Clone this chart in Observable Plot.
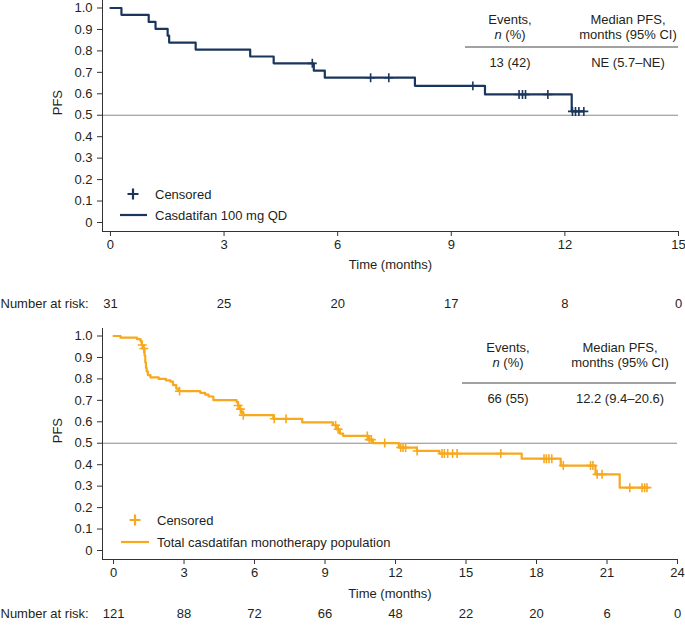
<!DOCTYPE html>
<html><head><meta charset="utf-8">
<script src="https://cdn.jsdelivr.net/npm/d3@7"></script>
<script src="https://cdn.jsdelivr.net/npm/@observablehq/plot@0.6"></script>
<style>
body{margin:0;background:#fff;}
#chart{width:685px;}
#chart svg{display:block;}
</style></head><body><div id="chart"></div>
<script>
// ---------- Data ----------
// Panel A: Casdatifan 100 mg QD
const cohortTimes = [0, 0.29, 1.01, 1.19, 1.51, 1.55, 2.25, 3.69, 4.31, 5.37, 5.66, 8.04, 9.89, 12.18, 12.5];
const cohortSurv  = [1.0, 0.968, 0.935, 0.903, 0.871, 0.839, 0.806, 0.774, 0.742, 0.708, 0.675, 0.637, 0.597, 0.518, 0.518];
const cohortCensTimes = [5.33, 6.87, 7.35, 9.57, 10.79, 10.88, 10.96, 11.55, 12.2, 12.28, 12.37, 12.5];
const cohortCensSurv  = [0.742, 0.675, 0.675, 0.637, 0.597, 0.597, 0.597, 0.597, 0.518, 0.518, 0.518, 0.518];
const cohortTicks = [0, 3, 6, 9, 12, 15];
const cohortRisk  = [31, 25, 20, 17, 8, 0];
const cohortLabel = "Casdatifan 100 mg QD";
const cohortEvents = "13 (42)";
const cohortMedian = "NE (5.7–NE)";

// Panel B: Total casdatifan monotherapy population
const totalTimes = [0, 0.30, 1.00, 1.15, 1.20, 1.27, 1.32, 1.35, 1.38, 1.41, 1.46, 1.57, 1.92, 2.23, 2.42, 2.53, 2.67, 2.77,
  3.69, 3.90, 4.04, 4.25, 5.24, 5.30, 5.38, 5.45, 5.53, 6.80, 8.03, 9.34, 9.49, 9.63, 9.77, 10.87, 11.04,
  12.14, 12.91, 13.87, 17.37, 19.03, 20.51, 21.54, 22.72];
const totalSurv = [1.0, 0.992, 0.985, 0.975, 0.958, 0.942, 0.909, 0.876, 0.851, 0.835, 0.818, 0.807, 0.800, 0.793, 0.787, 0.771, 0.755, 0.743,
  0.735, 0.727, 0.718, 0.701, 0.692, 0.676, 0.659, 0.642, 0.631, 0.614, 0.597, 0.584, 0.565, 0.545, 0.534, 0.517, 0.501,
  0.480, 0.464, 0.452, 0.428, 0.396, 0.355, 0.293, 0.293];
const totalCensTimes = [1.22, 1.29, 2.81, 5.30, 5.40, 5.52, 6.84, 7.34, 9.45, 9.56, 10.80, 10.88, 10.97, 11.54,
  12.22, 12.32, 12.43, 12.92, 13.98, 14.08, 14.22, 14.43, 14.62, 16.48, 18.32, 18.42, 18.53, 18.65,
  19.14, 20.30, 20.40, 20.58, 20.79, 21.97, 22.49, 22.60, 22.70];
const totalCensSurv = [0.958, 0.942, 0.743, 0.676, 0.659, 0.631, 0.614, 0.614, 0.584, 0.565, 0.534, 0.517, 0.517, 0.501,
  0.480, 0.480, 0.480, 0.464, 0.452, 0.452, 0.452, 0.452, 0.452, 0.452, 0.428, 0.428, 0.428, 0.428,
  0.396, 0.396, 0.396, 0.355, 0.355, 0.293, 0.293, 0.293, 0.293];
const totalTicks = [0, 3, 6, 9, 12, 15, 18, 21, 24];
const totalRisk  = [121, 88, 72, 66, 48, 22, 20, 6, 0];
const totalLabel = "Total casdatifan monotherapy population";
const totalEvents = "66 (55)";
const totalMedian = "12.2 (9.4–20.6)";

const yTicks = [0, 0.1, 0.2, 0.3, 0.4, 0.5, 0.6, 0.7, 0.8, 0.9, 1.0];
const censoredLabel = "Censored";
const headEvents = ["Events,", "n", " (%)"];
const headMedian = ["Median PFS,", "months (95% CI)"];

// ---------- Style ----------
const FONT = "'Liberation Sans', Arial, Helvetica, sans-serif";
const TEXT = "#231f20";
const AXIS = "#333333";

function decor(c) {
  return (index, scales, values, dims) => {
    const L = dims.marginLeft, T = dims.marginTop;
    const g = d3.create("svg:g").attr("font-family", FONT).attr("font-size", 13).attr("fill", TEXT);
    const lg = c.legend;
    const px = L + lg.plusX, py = T + lg.plusY;
    g.append("path")
      .attr("d", `M${px - 5.5},${py}H${px + 5.5}M${px},${py - 5.5}V${py + 5.5}`)
      .attr("stroke", c.color).attr("stroke-width", 2.2).attr("fill", "none");
    g.append("line")
      .attr("x1", L + lg.lineX0).attr("x2", L + lg.lineX1)
      .attr("y1", T + lg.lineY).attr("y2", T + lg.lineY)
      .attr("stroke", c.color).attr("stroke-width", 2.2);
    const lt = g.append("g").attr("text-anchor", "start");
    lt.append("text").attr("x", L + lg.textX).attr("y", py).attr("dy", "0.35em").text(censoredLabel);
    lt.append("text").attr("x", L + lg.textX).attr("y", T + lg.lineY).attr("dy", "0.35em").text(c.label);

    const tb = c.table;
    const t = g.append("g").attr("text-anchor", "middle");
    t.append("text").attr("x", L + tb.col1).attr("y", T + tb.h1).attr("dy", "0.35em").text(headEvents[0]);
    const n = t.append("text").attr("x", L + tb.col1).attr("y", T + tb.h2).attr("dy", "0.35em");
    n.append("tspan").attr("font-style", "italic").text(headEvents[1]);
    n.append("tspan").text(headEvents[2]);
    t.append("text").attr("x", L + tb.col2).attr("y", T + tb.h1).attr("dy", "0.35em").text(headMedian[0]);
    t.append("text").attr("x", L + tb.col2).attr("y", T + tb.h2).attr("dy", "0.35em").text(headMedian[1]);
    g.append("line").attr("x1", L + tb.rule0).attr("x2", L + tb.rule1)
      .attr("y1", T + tb.ruleY).attr("y2", T + tb.ruleY).attr("stroke", "#444").attr("stroke-width", 1);
    t.append("text").attr("x", L + tb.col1).attr("y", T + tb.v).attr("dy", "0.35em").text(c.events);
    t.append("text").attr("x", L + tb.col2).attr("y", T + tb.v).attr("dy", "0.35em").text(c.median);
    return g.node();
  };
}

function panel(c) {
  const yDomain = [-0.042, 1.035];
  const steps = c.times.map((t, i) => ({t, s: c.surv[i]}));
  const cens = c.censT.map((t, i) => ({t, s: c.censS[i]}));
  return Plot.plot({
    width: 685, height: c.height,
    marginLeft: 102, marginRight: c.marginRight, marginTop: c.marginTop, marginBottom: c.marginBottom,
    style: {fontFamily: FONT, fontSize: "13px", color: TEXT, background: "white", overflow: "visible"},
    x: {domain: c.xDomain},
    y: {domain: yDomain},
    marks: [
      Plot.ruleY([0.5], {stroke: "#8a8a8a", strokeWidth: 1}),
      Plot.ruleX([c.xDomain[0]], {stroke: AXIS, strokeWidth: 1}),
      Plot.ruleY([yDomain[0]], {stroke: AXIS, strokeWidth: 1}),
      Plot.axisX({ticks: c.ticks, tickSize: 5, tickPadding: 3, tickFormat: d => String(d), label: null, stroke: AXIS, fill: TEXT}),
      Plot.axisY({ticks: yTicks, tickSize: 5, tickPadding: 5, tickFormat: d => d === 0 ? "0" : d.toFixed(1), label: null, stroke: AXIS, fill: TEXT}),
      Plot.text([0.5], {y: d => d, text: () => "PFS", frameAnchor: "left", dx: -45, rotate: -90, fill: TEXT}),
      Plot.text(["Time (months)"], {text: d => d, frameAnchor: "bottom", dy: c.titleDy, fill: TEXT}),
      Plot.text(["Number at risk:"], {text: d => d, frameAnchor: "bottom-left", dx: -102, dy: c.riskDy, textAnchor: "start", fill: TEXT}),
      Plot.text(c.risk, {x: (d, i) => c.ticks[i], text: d => String(d), frameAnchor: "bottom", dy: c.riskDy, fill: TEXT}),
      Plot.line(steps, {x: "t", y: "s", curve: "step-after", stroke: c.color, strokeWidth: 2.2}),
      Plot.dot(cens, {x: "t", y: "s", symbol: "plus", r: 3, stroke: c.color, strokeWidth: 1.6}),
      decor(c)
    ]
  });
}

const topPanel = panel({
  times: cohortTimes, surv: cohortSurv, censT: cohortCensTimes, censS: cohortCensSurv,
  ticks: cohortTicks, risk: cohortRisk, label: cohortLabel, events: cohortEvents, median: cohortMedian,
  color: "#1b365d", xDomain: [-0.21, 15],
  height: 320, marginTop: 0, marginBottom: 89, marginRight: 7, titleDy: 37, riskDy: 76,
  legend: {plusX: 31, plusY: 194, lineX0: 18, lineX1: 45, lineY: 215, textX: 53},
  table: {col1: 408, col2: 526, h1: 19, h2: 34, ruleY: 47, rule0: 363, rule1: 576, v: 62}
});
const bottomPanel = panel({
  times: totalTimes, surv: totalSurv, censT: totalCensTimes, censS: totalCensSurv,
  ticks: totalTicks, risk: totalRisk, label: totalLabel, events: totalEvents, median: totalMedian,
  color: "#f8a81c", xDomain: [-0.47, 24],
  height: 309, marginTop: 8, marginBottom: 70, marginRight: 8, titleDy: 38, riskDy: 58,
  legend: {plusX: 33, plusY: 192, lineX0: 19, lineX1: 47, lineY: 214, textX: 55},
  table: {col1: 406, col2: 518, h1: 19, h2: 34, ruleY: 55, rule0: 360, rule1: 574, v: 70}
});
document.getElementById("chart").append(topPanel, bottomPanel);
</script>
</body></html>
